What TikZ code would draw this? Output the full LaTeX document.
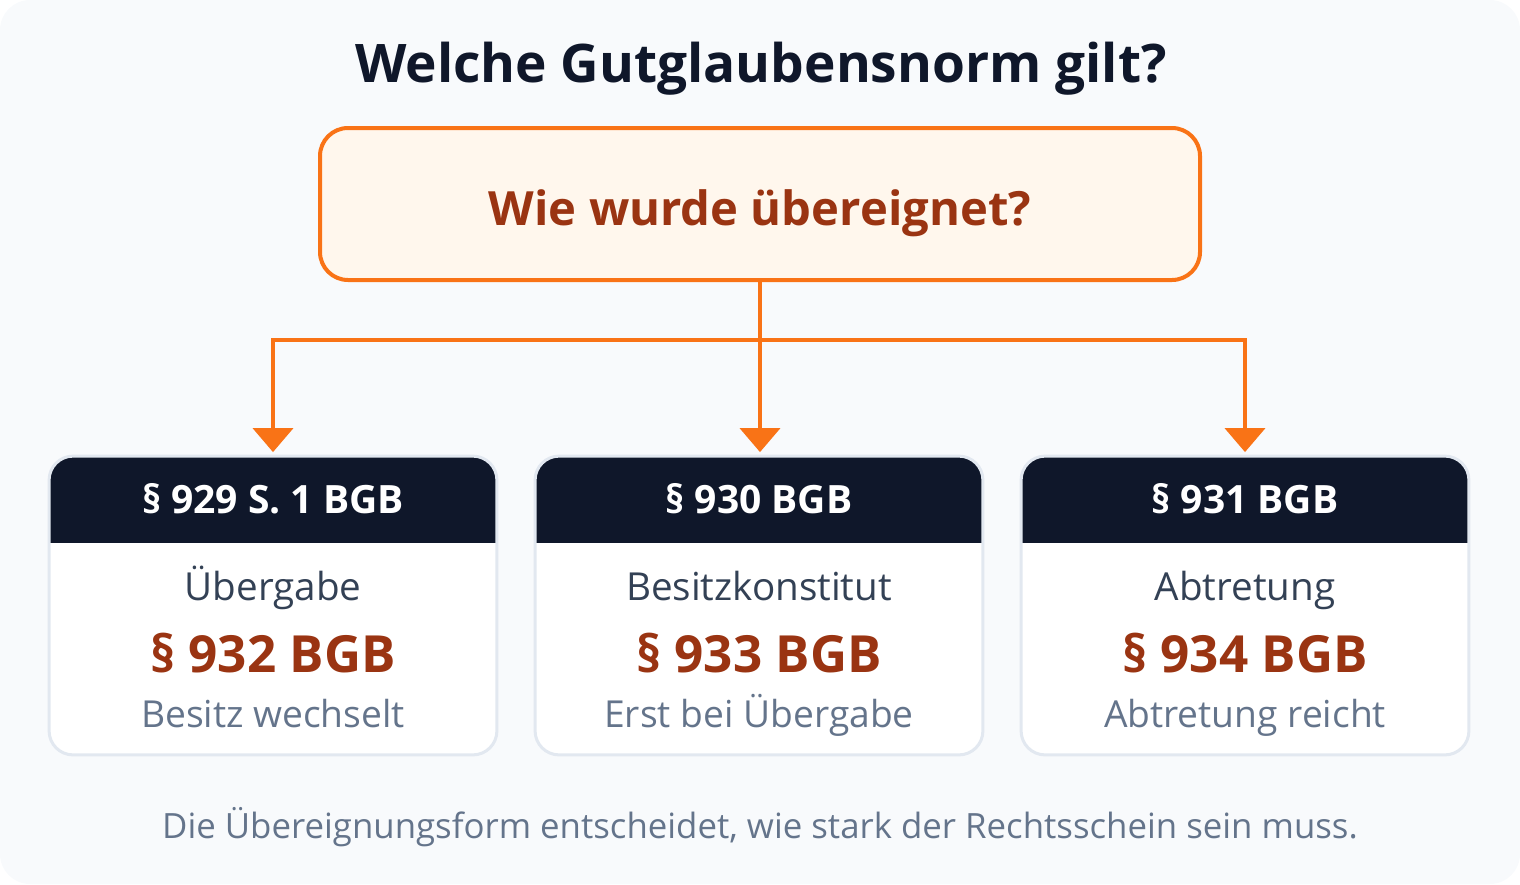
\documentclass[tikz,border=0pt]{standalone}
\usepackage{fontspec}
\setmainfont{Open Sans}
\usetikzlibrary{arrows.meta}
\definecolor{bgc}{HTML}{F8FAFC}
\definecolor{ink}{HTML}{0F172A}
\definecolor{qfill}{HTML}{FFF7ED}
\definecolor{orng}{HTML}{F97316}
\definecolor{rust}{HTML}{9A3412}
\definecolor{cardline}{HTML}{E2E8F0}
\definecolor{slate}{HTML}{334155}
\definecolor{muted}{HTML}{64748B}
\tikzset{
  titletext/.style={font=\fontsize{26.6pt}{32pt}\selectfont\bfseries, text=ink, anchor=base, inner sep=0pt},
  qbox/.style={draw=orng, line width=2pt, fill=qfill, rounded corners=14pt, minimum width=440pt, minimum height=76pt, inner sep=0pt},
  qtext/.style={font=\fontsize{23.6pt}{28pt}\selectfont\bfseries, text=rust, anchor=base, inner sep=0pt},
  cardbox/.style={fill=white, minimum width=223.5pt, minimum height=149pt, inner sep=0pt, rounded corners=12pt},
  cardedge/.style={draw=cardline, line width=1.5pt, rounded corners=12pt},
  headtext/.style={font=\fontsize{19.5pt}{23pt}\selectfont\bfseries, text=white, anchor=base, inner sep=0pt},
  labeltext/.style={font=\fontsize{19.3pt}{23pt}\selectfont, text=slate, anchor=base, inner sep=0pt},
  normtext/.style={font=\fontsize{25.6pt}{30pt}\selectfont\bfseries, text=rust, anchor=base, inner sep=0pt},
  desctext/.style={font=\fontsize{18.6pt}{22pt}\selectfont, text=muted, anchor=base, inner sep=0pt},
  foottext/.style={font=\fontsize{17.4pt}{21pt}\selectfont, text=muted, anchor=base, inner sep=0pt},
  conn/.style={draw=orng, line width=2pt},
  arrowconn/.style={conn, -{Triangle[width=20pt,length=12pt]}, shorten >=2pt},
}
\begin{document}
\begin{tikzpicture}[x=0.5pt, y=-0.5pt]
\useasboundingbox (0,0) rectangle (1520,884);
\fill[bgc, rounded corners=15pt] (0,0) rectangle (1520,884);

\node[titletext] (title) at (761,82) {Welche Gutglaubensnorm gilt?};
\node[qbox] (q) at (760,204) {};
\node[qtext] (qt) at (760,225) {Wie wurde übereignet?};

\coordinate (j) at (760,340);

\foreach \i/\cx/\hd/\lb/\nm/\ds in {
  1/273/{§ 929 S. 1 BGB}/{Übergabe}/{§ 932 BGB}/{Besitz wechselt},
  2/759/{§ 930 BGB}/{Besitzkonstitut}/{§ 933 BGB}/{Erst bei Übergabe},
  3/1245/{§ 931 BGB}/{Abtretung}/{§ 934 BGB}/{Abtretung reicht}}{
  \node[cardbox] (c\i) at (\cx,605.5) {};
  \begin{scope}
    \clip[rounded corners=12pt] (c\i.north west) rectangle (c\i.south east);
    \fill[ink] (c\i.north west) rectangle (\cx+230,543);
  \end{scope}
  \draw[cardedge] (c\i.north west) rectangle (c\i.south east);
  \node[headtext] (h\i) at (\cx,513) {\hd};
  \node[labeltext] (l\i) at (\cx,600) {\lb};
  \node[normtext] (n\i) at (\cx,672) {\nm};
  \node[desctext] (d\i) at (\cx,727) {\ds};
}

\draw[conn] (c1.north |- j) -- (c3.north |- j);
\draw[arrowconn] (q.south) -- (q.south |- c2.north);
\draw[arrowconn] ([yshift=1pt]c1.north |- j) -- (c1.north);
\draw[arrowconn] ([yshift=1pt]c3.north |- j) -- (c3.north);

\node[foottext] (foot) at (760,838) {Die Übereignungsform entscheidet, wie stark der Rechtsschein sein muss.};
\end{tikzpicture}
\end{document}
